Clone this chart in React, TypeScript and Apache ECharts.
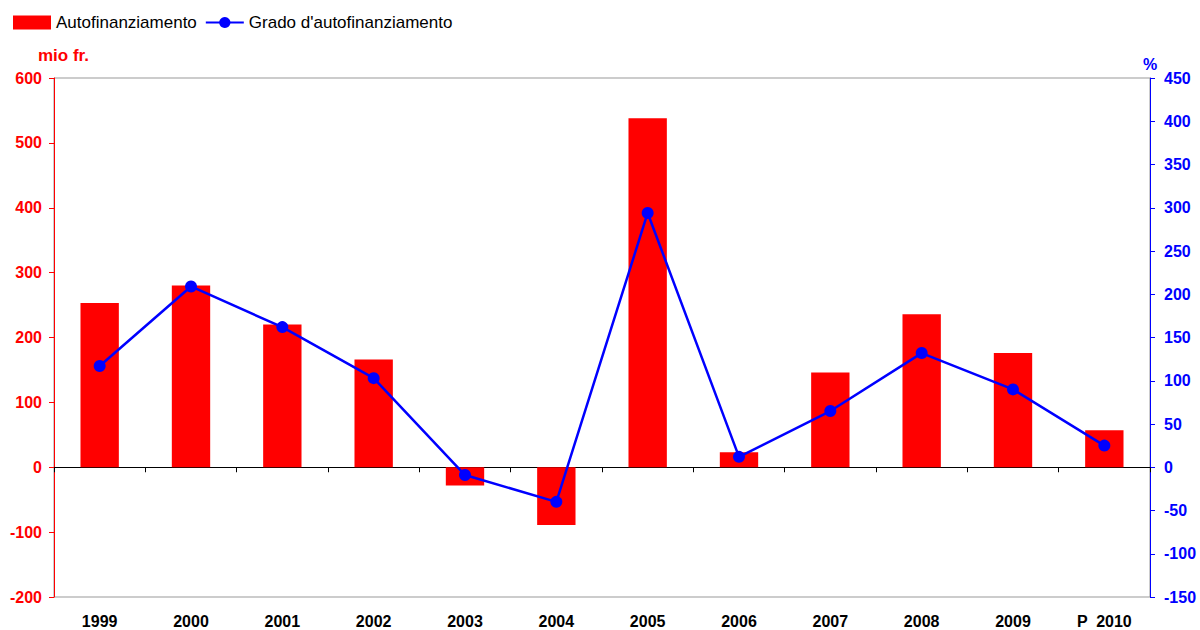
import React, { useEffect, useRef } from "react";
import * as echarts from "echarts";

const years = ["1999", "2000", "2001", "2002", "2003", "2004", "2005", "2006", "2007", "2008", "2009", "P  2010"];
const autofinanziamento = [253, 280, 220, 166, -28, -89, 538, 23, 146, 236, 176, 57];
const grado = [117, 209, 162, 103, -9, -40, 294, 12, 65, 132, 90, 25];

export default function App() {
  const ref = useRef<HTMLDivElement>(null);
  useEffect(() => {
    const chart = echarts.init(ref.current!, null, { renderer: "svg" });
    const font = "Liberation Sans, Arial, sans-serif";
    chart.setOption({
      animation: false,
      textStyle: { fontFamily: font },
      legend: {
        left: 8,
        top: 9,
        itemGap: 8,
        itemWidth: 38,
        itemHeight: 14,
        textStyle: { fontSize: 17, color: "#000", fontFamily: font },
        data: [
          { name: "Autofinanziamento", icon: "rect" },
          { name: "Grado d'autofinanziamento" },
        ],
      },
      grid: {
        left: 54,
        right: 50,
        top: 78,
        bottom: 33,
        show: true,
        borderColor: "#999",
        borderWidth: 1,
        backgroundColor: "transparent",
      },
      xAxis: [
        {
          type: "category",
          data: years,
          position: "bottom",
          axisLine: { show: false, onZero: false },
          axisTick: { show: false },
          axisLabel: { color: "#000", fontWeight: "bold", fontSize: 16, fontFamily: font, margin: 16 },
        },
        {
          type: "category",
          data: years,
          position: "bottom",
          axisLine: { show: true, onZero: true, onZeroAxisIndex: 0, lineStyle: { color: "#000", width: 1 } },
          axisTick: { show: true, length: 5, lineStyle: { color: "#000" } },
          axisLabel: { show: false },
        },
      ],
      yAxis: [
        {
          type: "value",
          min: -200,
          max: 600,
          interval: 100,
          name: "mio fr.",
          nameLocation: "end",
          nameGap: 14,
          nameTextStyle: { color: "#ff0000", fontWeight: "bold", fontSize: 17, fontFamily: font, align: "left", padding: [0, 0, 0, -16] },
          axisLine: { show: true, lineStyle: { color: "#ff0000", width: 1 } },
          axisTick: { show: true, length: 5, lineStyle: { color: "#ff0000" } },
          axisLabel: { color: "#ff0000", fontWeight: "bold", fontSize: 16, fontFamily: font, margin: 12 },
          splitLine: { show: false },
        },
        {
          type: "value",
          min: -150,
          max: 450,
          interval: 50,
          name: "%",
          nameLocation: "end",
          nameGap: 6,
          nameTextStyle: { color: "#0000ff", fontWeight: "bold", fontSize: 16, fontFamily: font, align: "center" },
          axisLine: { show: true, lineStyle: { color: "#0000ff", width: 1 } },
          axisTick: { show: true, length: 5, lineStyle: { color: "#0000ff" } },
          axisLabel: { color: "#0000ff", fontWeight: "bold", fontSize: 16, fontFamily: font, margin: 14 },
          splitLine: { show: false },
        },
      ],
      series: [
        {
          name: "Autofinanziamento",
          type: "bar",
          data: autofinanziamento,
          xAxisIndex: 0,
          yAxisIndex: 0,
          barWidth: "42%",
          itemStyle: { color: "#ff0000" },
        },
        {
          name: "Grado d'autofinanziamento",
          type: "line",
          data: grado,
          xAxisIndex: 0,
          yAxisIndex: 1,
          symbol: "circle",
          symbolSize: 12,
          lineStyle: { color: "#0000ff", width: 2.5 },
          itemStyle: { color: "#0000ff" },
          z: 5,
        },
      ],
    });
    return () => chart.dispose();
  }, []);
  return <div ref={ref} style={{ position: "fixed", left: 0, top: 0, width: 1200, height: 630, background: "#fff" }} />;
}
